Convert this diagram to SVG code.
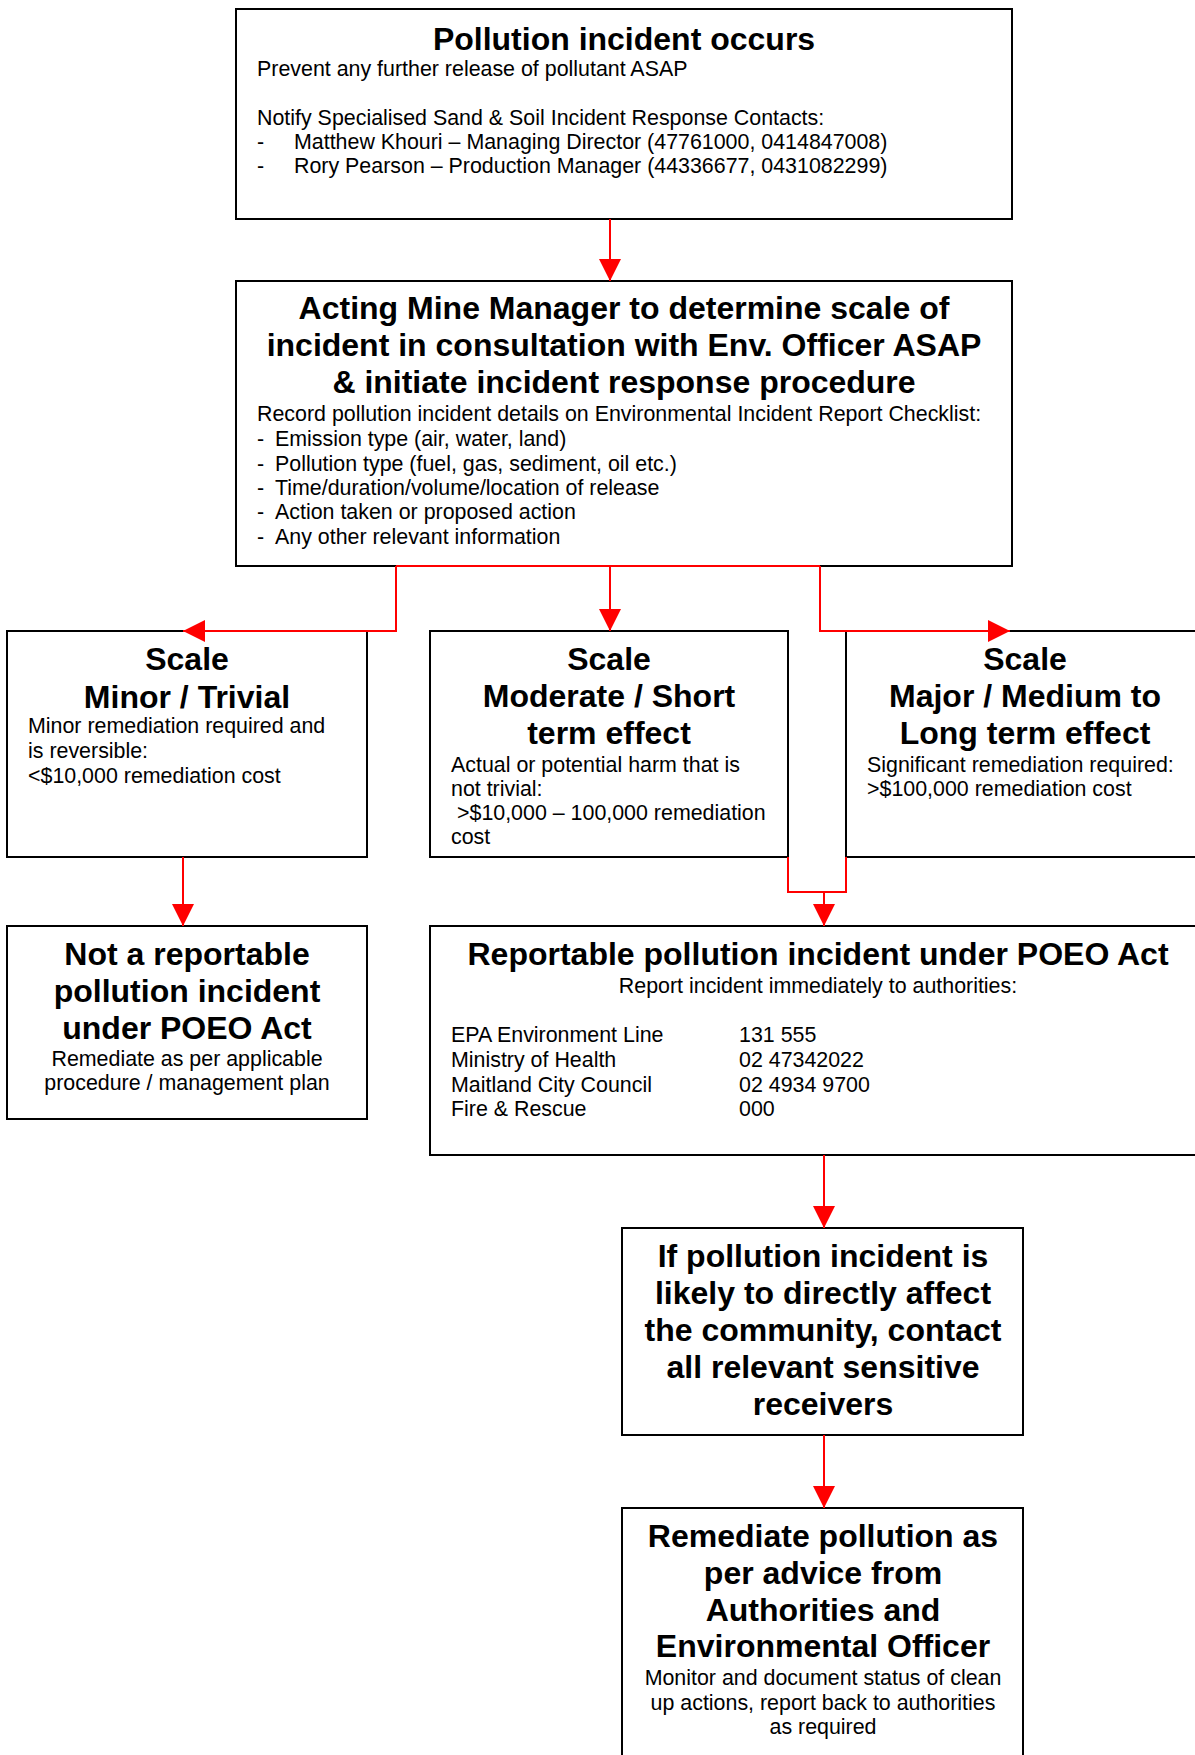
<svg xmlns="http://www.w3.org/2000/svg" width="1195" height="1755" viewBox="0 0 1195 1755">
<style>
  .box { fill: #ffffff; stroke: #000000; stroke-width: 2; }
  .t { font-family: "Liberation Sans", Arial, sans-serif; font-weight: bold; font-size: 32px; fill: #000; }
  .b { font-family: "Liberation Sans", Arial, sans-serif; font-size: 21.4px; fill: #000; }
  .c { text-anchor: middle; }
  .conn { fill: none; stroke: #ff0000; stroke-width: 2; }
</style>
<defs>
  <marker id="arr" markerUnits="userSpaceOnUse" markerWidth="22" markerHeight="22" refX="22" refY="11" orient="auto">
    <path d="M0,0 L22,11 L0,22 z" fill="#ff0000"/>
  </marker>
</defs>
<rect x="0" y="0" width="1195" height="1755" fill="#ffffff"/>

<g id="n1">
  <rect class="box" x="236" y="9" width="776" height="210"/>
  <text class="t c" x="624" y="50">Pollution incident occurs</text>
  <text class="b" x="257" y="76">Prevent any further release of pollutant ASAP</text>
  <text class="b" x="257" y="125">Notify Specialised Sand &amp; Soil Incident Response Contacts:</text>
  <text class="b" x="257" y="149">-</text>
  <text class="b" x="294" y="149">Matthew Khouri – Managing Director (47761000, 0414847008)</text>
  <text class="b" x="257" y="173">-</text>
  <text class="b" x="294" y="173">Rory Pearson – Production Manager (44336677, 0431082299)</text>
</g>

<g id="n2">
  <rect class="box" x="236" y="281" width="776" height="285"/>
  <text class="t c" x="624" y="319">Acting Mine Manager to determine scale of</text>
  <text class="t c" x="624" y="356">incident in consultation with Env. Officer ASAP</text>
  <text class="t c" x="624" y="393">&amp; initiate incident response procedure</text>
  <text class="b" x="257" y="421">Record pollution incident details on Environmental Incident Report Checklist:</text>
  <text class="b" x="257" y="446">-</text><text class="b" x="275" y="446">Emission type (air, water, land)</text>
  <text class="b" x="257" y="471">-</text><text class="b" x="275" y="471">Pollution type (fuel, gas, sediment, oil etc.)</text>
  <text class="b" x="257" y="495">-</text><text class="b" x="275" y="495">Time/duration/volume/location of release</text>
  <text class="b" x="257" y="519">-</text><text class="b" x="275" y="519">Action taken or proposed action</text>
  <text class="b" x="257" y="544">-</text><text class="b" x="275" y="544">Any other relevant information</text>
</g>

<g id="n3">
  <rect class="box" x="7" y="631" width="360" height="226"/>
  <text class="t c" x="187" y="670">Scale</text>
  <text class="t c" x="187" y="708">Minor / Trivial</text>
  <text class="b" x="28" y="733">Minor remediation required and</text>
  <text class="b" x="28" y="758">is reversible:</text>
  <text class="b" x="28" y="783">&lt;$10,000 remediation cost</text>
</g>

<g id="n4">
  <rect class="box" x="430" y="631" width="358" height="226"/>
  <text class="t c" x="609" y="670">Scale</text>
  <text class="t c" x="609" y="707">Moderate / Short</text>
  <text class="t c" x="609" y="744">term effect</text>
  <text class="b" x="451" y="772">Actual or potential harm that is</text>
  <text class="b" x="451" y="796">not trivial:</text>
  <text class="b" x="457" y="820">&gt;$10,000 – 100,000 remediation</text>
  <text class="b" x="451" y="844">cost</text>
</g>

<g id="n5">
  <rect class="box" x="846" y="631" width="360" height="226"/>
  <text class="t c" x="1025" y="670">Scale</text>
  <text class="t c" x="1025" y="707">Major / Medium to</text>
  <text class="t c" x="1025" y="744">Long term effect</text>
  <text class="b" x="867" y="772">Significant remediation required:</text>
  <text class="b" x="867" y="796">&gt;$100,000 remediation cost</text>
</g>

<g id="n6">
  <rect class="box" x="7" y="926" width="360" height="193"/>
  <text class="t c" x="187" y="965">Not a reportable</text>
  <text class="t c" x="187" y="1002">pollution incident</text>
  <text class="t c" x="187" y="1039">under POEO Act</text>
  <text class="b c" x="187" y="1066">Remediate as per applicable</text>
  <text class="b c" x="187" y="1090">procedure / management plan</text>
</g>

<g id="n7">
  <rect class="box" x="430" y="926" width="776" height="229"/>
  <text class="t c" x="818" y="965">Reportable pollution incident under POEO Act</text>
  <text class="b c" x="818" y="993">Report incident immediately to authorities:</text>
  <text class="b" x="451" y="1042">EPA Environment Line</text><text class="b" x="739" y="1042">131 555</text>
  <text class="b" x="451" y="1067">Ministry of Health</text><text class="b" x="739" y="1067">02 47342022</text>
  <text class="b" x="451" y="1092">Maitland City Council</text><text class="b" x="739" y="1092">02 4934 9700</text>
  <text class="b" x="451" y="1116">Fire &amp; Rescue</text><text class="b" x="739" y="1116">000</text>
</g>

<g id="n8">
  <rect class="box" x="622" y="1228" width="401" height="207"/>
  <text class="t c" x="823" y="1267">If pollution incident is</text>
  <text class="t c" x="823" y="1304">likely to directly affect</text>
  <text class="t c" x="823" y="1341">the community, contact</text>
  <text class="t c" x="823" y="1378">all relevant sensitive</text>
  <text class="t c" x="823" y="1415">receivers</text>
</g>

<g id="n9">
  <rect class="box" x="622" y="1508" width="401" height="270"/>
  <text class="t c" x="823" y="1547">Remediate pollution as</text>
  <text class="t c" x="823" y="1584">per advice from</text>
  <text class="t c" x="823" y="1621">Authorities and</text>
  <text class="t c" x="823" y="1657">Environmental Officer</text>
  <text class="b c" x="823" y="1685">Monitor and document status of clean</text>
  <text class="b c" x="823" y="1710">up actions, report back to authorities</text>
  <text class="b c" x="823" y="1734">as required</text>
</g>

<g id="connectors">
  <path class="conn" d="M610,219 V281" marker-end="url(#arr)"/>
  <path class="conn" d="M396,566 H820"/>
  <path class="conn" d="M396,566 V631 H183" marker-end="url(#arr)"/>
  <path class="conn" d="M610,566 V631" marker-end="url(#arr)"/>
  <path class="conn" d="M820,566 V631 H1010" marker-end="url(#arr)"/>
  <path class="conn" d="M183,857 V926" marker-end="url(#arr)"/>
  <path class="conn" d="M788,857 V892 H846 V857"/>
  <path class="conn" d="M824,892 V926" marker-end="url(#arr)"/>
  <path class="conn" d="M824,1155 V1228" marker-end="url(#arr)"/>
  <path class="conn" d="M824,1435 V1508" marker-end="url(#arr)"/>
</g>
</svg>
